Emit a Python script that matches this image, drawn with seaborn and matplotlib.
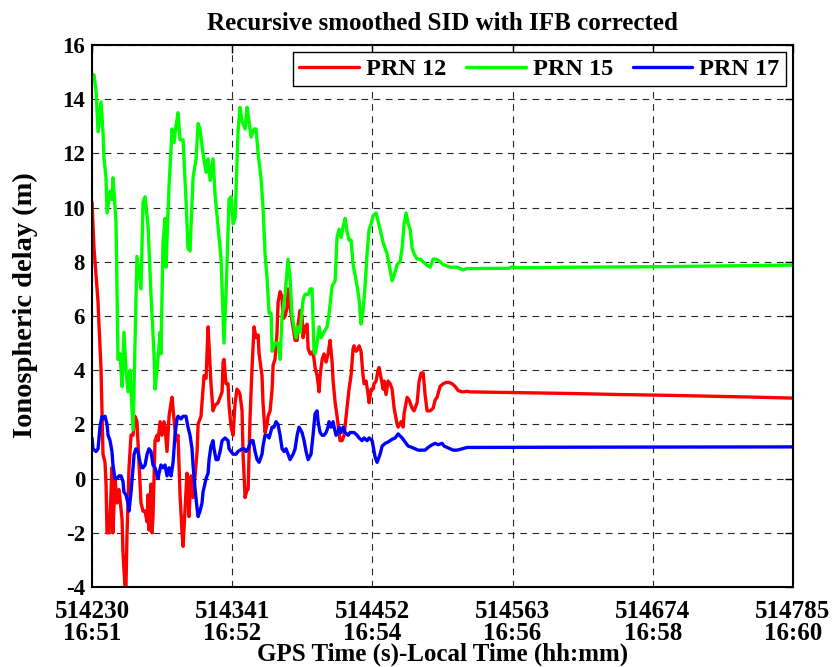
import numpy as np
import pandas as pd
import matplotlib
matplotlib.use("Agg")
import matplotlib.pyplot as plt
import seaborn as sns

T0 = 514230
# seconds after T0, and ionospheric delay (m)
prn12_sec = [0, 1.6, 4.0, 4.8, 5.5, 7.1, 7.9, 8.7, 10.3, 11.1, 11.9, 13.5, 15.0, 15.8, 16.6, 18.2,
             19.8, 21.4, 23.8, 24.5, 26.1, 26.9, 27.7, 29.3, 30.9, 32.5, 34.0, 35.6, 37.2, 38.8,
             40.4, 42.0, 43.6, 44.4, 45.1, 46.7, 47.5, 48.3, 49.9, 51.5, 52.3, 53.9, 55.4, 57.0,
             57.8, 59.4, 61.0, 62.6, 63.4, 64.9, 66.5, 68.1, 69.7, 71.3, 72.1, 73.7, 75.2, 76.0,
             76.8, 78.4, 80.0, 81.6, 83.2, 84.0, 84.7, 86.3, 87.9, 88.7, 90.3, 91.9, 92.7, 94.2,
             95.8, 97.4, 99.8, 101.4, 103.0, 103.8, 104.5, 106.1, 107.7, 108.5, 110.1, 111.7,
             113.3, 114.8, 116.4, 117.2, 118.8, 119.6, 121.2, 122.8, 123.6, 125.1, 126.7, 128.3,
             129.9, 131.5, 132.3, 134.6, 135.4, 137.0, 138.6, 139.4, 141.0, 142.6, 143.4, 144.9,
             146.5, 147.3, 148.9, 150.5, 151.3, 152.9, 154.4, 155.2, 156.8, 158.4, 159.2, 160.8,
             162.4, 163.2, 164.7, 166.3, 167.1, 168.7, 170.3, 171.1, 172.7, 174.2, 175.0, 176.6,
             178.2, 179.8, 180.6, 182.2, 183.7, 185.3, 186.9, 188.5, 190.1, 190.9, 192.5, 194.0,
             194.8, 196.4, 198.0, 199.6, 201.2, 202.8, 203.5, 205.1, 206.7, 207.5, 209.1, 210.7,
             211.5, 213.0, 214.6, 215.4, 217.0, 218.6, 219.4, 221.0, 222.6, 223.3, 224.9, 226.5,
             227.3, 228.9, 230.5, 231.3, 232.8, 234.4, 236.0, 237.6, 239.2, 241.6, 242.4, 244.7,
             246.3, 247.1, 249.5, 251.1, 253.4, 255.0, 257.4, 259.0, 260.6, 262.2, 263.7, 265.3,
             267.7, 270.1, 271.7, 273.2, 275.6, 278.0, 280.4, 282.7, 285.1, 287.5, 289.9, 293.0,
             297.0, 299.4, 340, 380, 420, 460, 500, 530, 555]
prn12_val = [10.2, 8.5, 7.0, 6.5, 5.7, 4.1, 2.5, 0.9, 0.6, -0.2, -2.0, -2.0, -0.6, 0.4, -2.0, 0.0,
             -0.9, -0.4, -1.5, -2.7, -4.0, -4.0, -2.1, 0.4, 1.6, 1.6, 2.3, 2.1, 0.6, -0.9,
             -1.2, -1.2, -1.6, -0.6, -1.9, -0.2, -2.0, -1.4, 1.4, 1.6, 1.4, 2.1, 1.6, 2.1,
             1.9, 1.0, 2.3, 2.8, 3.0, 2.2, 1.4, 1.6, -0.6, -2.0, -2.5, -1.1, 0.2, -0.2,
             -1.4, 0.1, -0.7, 0.1, 1.0, 2.0, 2.1, 2.3, 3.3, 3.8, 3.7, 5.6, 4.9, 3.5,
             2.5, 2.7, 2.8, 3.0, 3.2, 4.3, 4.4, 3.5, 3.5, 2.7, 1.9, 1.6,
             2.8, 3.3, 3.2, 3.1, 2.5, 0.9, -0.7, -0.4, -0.4, 2.2, 4.1, 5.6,
             5.2, 5.3, 4.6, 3.8, 2.8, 1.7, 2.0, 2.3, 2.5, 3.3, 4.2, 4.4,
             5.4, 6.5, 6.9, 6.7, 5.9, 6.0, 6.3, 7.0, 6.4, 5.8, 5.6, 5.1,
             5.1, 5.7, 6.2, 6.0, 5.2, 5.6, 5.7, 4.8, 4.6, 4.6, 4.7, 4.1,
             3.8, 3.2, 3.8, 4.4, 4.6, 4.3, 4.6, 5.1, 4.3, 3.6, 2.8, 2.3,
             2.0, 1.4, 1.4, 1.6, 2.3, 3.0, 3.3, 3.8, 4.8, 4.9, 4.7, 4.8,
             4.9, 4.7, 3.8, 3.5, 3.6, 3.1, 2.8, 3.3, 3.3, 3.5, 3.6, 4.0,
             4.1, 3.7, 3.3, 3.6, 3.1, 3.6, 3.5, 3.3, 2.6, 2.0, 1.9, 2.1,
             1.9, 2.4, 3.0, 2.9, 2.6, 2.5, 2.8, 3.6, 3.9, 3.9, 3.1, 2.5,
             2.5, 2.6, 2.9, 3.0, 3.4, 3.5, 3.55, 3.55, 3.5, 3.4, 3.25, 3.2,
             3.22, 3.2, 3.17, 3.14, 3.1, 3.07, 3.03, 3.0, 2.97]

prn15_sec = [0, 1.6, 3.2, 4.8, 7.1, 8.7, 9.5, 11.1, 11.9, 14.3, 15.8, 16.6, 19.0, 20.6, 22.2,
             23.8, 25.3, 26.9, 28.5, 30.1, 32.5, 35.6, 38.8, 40.4, 42.0, 44.4, 46.7, 49.1, 49.9,
             51.5, 53.9, 54.6, 56.2, 57.8, 58.6, 61.0, 63.4, 64.9, 66.5, 68.1, 69.7, 72.1, 74.4,
             76.0, 77.6, 80.0, 82.4, 84.0, 85.5, 87.9, 90.3, 91.9, 93.5, 95.8, 97.4, 99.8, 102.2,
             104.5, 106.1, 108.5, 110.1, 111.7, 113.3, 115.6, 117.2, 118.8, 121.2, 122.8, 124.3,
             125.9, 128.3, 129.9, 131.5, 133.8, 135.4, 137.0, 138.6, 140.2, 141.8, 142.6, 144.9,
             147.3, 148.9, 150.5, 152.9, 155.2, 156.8, 158.4, 160.0, 161.6, 163.2, 164.7, 167.1,
             168.7, 171.1, 172.7, 174.2, 175.8, 176.6, 178.2, 179.8, 181.4, 183.7, 186.1, 187.7,
             190.1, 192.5, 194.0, 195.6, 197.2, 198.8, 200.4, 202.0, 203.5, 205.1, 206.7, 208.3,
             209.9, 211.5, 213.0, 214.6, 216.2, 217.8, 219.4, 221.0, 222.6, 224.9, 228.1, 230.5,
             233.6, 236.0, 237.6, 239.2, 241.6, 243.9, 245.5, 247.1, 248.7, 250.3, 251.9, 253.4,
             255.0, 257.4, 259.8, 262.2, 264.5, 267.7, 270.1, 272.4, 275.6, 278.0, 283.5, 289.1,
             293.8, 297.0, 330, 333, 336, 380, 450, 500, 555]
prn15_val = [14.9, 14.9, 14.3, 12.8, 13.9, 12.8, 11.8, 11.1, 9.8, 10.6, 10.3, 11.1, 9.5, 4.4, 4.6,
             3.4, 5.4, 4.0, 3.2, 4.0, 1.8, 8.2, 7.0, 10.2, 10.4, 9.3, 6.8, 4.6, 3.3,
             4.0, 5.4, 4.6, 8.7, 9.6, 7.8, 10.8, 12.9, 12.4, 13.0, 13.5, 12.5, 12.5, 10.3,
             8.5, 8.4, 11.1, 11.8, 13.1, 12.9, 12.0, 11.3, 11.8, 11.0, 11.8, 10.5, 9.3, 8.1,
             5.0, 6.8, 10.3, 10.4, 9.4, 9.6, 12.8, 13.7, 13.2, 12.9, 13.7, 13.2,
             12.6, 12.9, 12.9, 12.0, 11.1, 10.0, 8.3, 7.4, 6.1, 6.1, 4.7, 5.0,
             5.0, 4.4, 6.0, 6.8, 8.1, 7.4, 6.0, 5.6, 5.2, 5.6, 5.4, 6.6,
             6.8, 6.8, 7.0, 7.0, 4.7, 4.6, 5.0, 5.6, 5.2, 5.4, 5.6, 6.1,
             7.1, 7.3, 8.9, 9.2, 8.9, 9.3, 9.6, 9.1, 8.8, 8.8, 7.9, 7.5,
             7.1, 6.6, 5.7, 6.2, 7.1, 8.3, 9.2, 9.4, 9.7, 9.8, 9.2, 8.7,
             8.3, 7.7, 7.3, 7.5, 7.9, 8.0, 8.5, 9.4, 9.8, 9.4, 9.2, 8.5,
             8.3, 8.1, 8.1, 8.0, 7.9, 7.8, 8.1, 8.1, 8.0, 7.9, 7.8, 7.8,
             7.7, 7.75, 7.76, 7.82, 7.78, 7.8, 7.82, 7.85, 7.88]

prn17_sec = [0, 0.8, 3.2, 4.8, 6.3, 7.9, 8.7, 10.3, 11.9, 12.7, 14.3, 15.8, 16.6, 18.2, 19.8,
             21.4, 23.0, 24.5, 25.3, 26.9, 28.5, 29.3, 30.9, 32.5, 33.3, 34.8, 36.4, 38.0, 39.6,
             40.4, 42.0, 43.6, 45.1, 46.7, 48.3, 49.9, 52.3, 53.1, 54.6, 56.2, 57.8, 59.4, 61.0,
             62.6, 64.2, 65.7, 67.3, 68.1, 70.5, 72.1, 74.4, 76.0, 77.6, 79.2, 80.0, 81.6, 83.2,
             84.0, 85.5, 87.1, 87.9, 90.3, 91.9, 92.7, 94.2, 95.8, 96.6, 98.2, 99.8, 101.4, 103.0,
             105.3, 107.7, 108.5, 110.1, 111.7, 114.0, 115.6, 117.2, 118.8, 120.4, 122.0, 123.6,
             125.9, 127.5, 129.1, 130.7, 132.3, 134.6, 135.4, 137.0, 138.6, 140.2, 142.6, 144.1,
             145.7, 147.3, 148.9, 150.5, 152.1, 153.6, 155.2, 156.8, 159.2, 160.8, 162.4, 163.9,
             166.3, 167.9, 169.5, 171.1, 173.4, 175.0, 176.6, 178.2, 179.0, 180.6, 182.2, 183.7,
             185.3, 186.9, 187.7, 189.3, 190.9, 191.7, 193.2, 194.8, 195.6, 197.2, 198.8, 200.4,
             202.8, 204.3, 205.9, 207.5, 209.9, 211.5, 213.8, 215.4, 217.8, 219.4, 221.8, 222.6,
             224.1, 225.7, 226.5, 228.1, 229.7, 232.1, 234.4, 237.6, 240.0, 242.4, 245.5, 247.9,
             250.3, 253.4, 255.8, 258.2, 261.4, 263.7, 266.1, 269.3, 271.7, 274.0, 277.2, 278.8,
             281.2, 283.5, 285.9, 289.1, 293.0, 297.0, 400, 555]
prn17_val = [1.5, 1.1, 1.0, 1.1, 1.9, 2.3, 2.2, 2.3, 2.0, 1.6, 1.4, 1.0, 0.5, 0.0, 0.0,
             0.1, 0.1, -0.1, -0.5, -0.6, -0.9, -1.2, -0.5, 0.4, 0.9, 1.1, 1.0, 0.6, 0.4,
             0.4, 0.5, 0.9, 1.1, 1.0, 0.5, 0.4, 0.0, 0.2, 0.5, 0.4, 0.5, 0.1, 0.4,
             0.1, 0.6, 1.6, 2.2, 2.3, 2.2, 2.3, 2.3, 1.9, 1.6, 1.1, 0.5, -0.4, -1.1,
             -1.4, -1.2, -0.9, -0.5, 0.0, 0.2, 0.7, 1.2, 1.4, 1.1, 0.7, 0.7, 1.0, 1.4,
             1.5, 1.4, 1.1, 1.0, 0.9, 0.9, 1.0, 1.05, 1.1, 1.1, 1.0, 1.1,
             1.4, 1.4, 1.0, 0.7, 0.6, 0.9, 1.2, 1.6, 1.6, 1.5, 1.9, 1.9,
             2.1, 2.0, 1.6, 1.1, 1.0, 1.1, 0.9, 0.7, 0.9, 1.1, 1.6, 1.9,
             1.7, 1.4, 1.0, 0.7, 0.9, 1.6, 2.4, 2.5, 2.1, 1.7, 1.6, 1.6,
             1.7, 1.9, 2.1, 1.9, 2.1, 1.9, 1.6, 1.7, 1.9, 1.7, 1.9, 1.7,
             1.6, 1.7, 1.7, 1.7, 1.6, 1.5, 1.4, 1.5, 1.4, 1.5, 1.4, 1.2,
             0.8, 0.6, 0.7, 0.9, 1.2, 1.3, 1.35, 1.45, 1.5, 1.65, 1.5, 1.35,
             1.2, 1.15, 1.1, 1.05, 1.05, 1.05, 1.15, 1.25, 1.3, 1.25, 1.3, 1.2,
             1.15, 1.1, 1.05, 1.05, 1.1, 1.15, 1.16, 1.17]

series_names = ["PRN 12", "PRN 15", "PRN 17"]
series_colors = ["#ff0000", "#00ff00", "#0000ff"]
tick_gps = [514230, 514341, 514452, 514563, 514674, 514785]
tick_local = ["16:51", "16:52", "16:54", "16:56", "16:58", "16:60"]
y_ticks = [-4, -2, 0, 2, 4, 6, 8, 10, 12, 14, 16]

frames = []
for name, sec, val in zip(series_names, [prn12_sec, prn15_sec, prn17_sec],
                          [prn12_val, prn15_val, prn17_val]):
    frames.append(pd.DataFrame({"t": T0 + np.array(sec, dtype=float),
                                "v": np.array(val, dtype=float), "sat": name}))
df = pd.concat(frames, ignore_index=True)

sns.set_theme(style="white")
plt.rcParams["font.family"] = ["Liberation Serif", "DejaVu Serif"]
plt.rcParams["font.weight"] = "bold"
plt.rcParams["axes.labelweight"] = "bold"
plt.rcParams["axes.titleweight"] = "bold"
plt.rcParams["text.color"] = "black"
plt.rcParams["axes.labelcolor"] = "black"
plt.rcParams["xtick.color"] = "black"
plt.rcParams["ytick.color"] = "black"

fig = plt.figure(figsize=(8.37, 6.67), dpi=100)
ax = fig.add_axes([92 / 837, 1 - 587 / 667, (793 - 92) / 837, (587 - 45) / 667])

sns.lineplot(data=df, x="t", y="v", hue="sat", hue_order=series_names,
             palette=dict(zip(series_names, series_colors)), sort=False,
             estimator=None, linewidth=2.4, ax=ax)

ax.set_xlim(tick_gps[0], tick_gps[-1])
ax.set_ylim(-4, 16)
ax.set_xticks(tick_gps)
ax.set_xticklabels([f"{g}\n{l}" for g, l in zip(tick_gps, tick_local)],
                   fontsize=18, fontweight="bold", linespacing=0.98)
ax.set_yticks(y_ticks)
ax.set_yticklabels([str(v) for v in y_ticks], fontsize=16.5, fontweight="bold")
ax.tick_params(direction="in", length=6, width=1, top=True, right=True,
               colors="black")
ax.tick_params(axis="x", pad=9)
ax.tick_params(axis="y", pad=5)
ax.grid(True, color="black", linestyle=(0, (6, 5)), linewidth=0.8, alpha=0.85)
for s in ax.spines.values():
    s.set_color("black")
    s.set_linewidth(1.5)

ax.set_xlabel("GPS Time (s)-Local Time (hh:mm)", fontsize=18, fontweight="bold", labelpad=-2)
ax.set_ylabel("Ionospheric delay (m)", fontsize=20.5, fontweight="bold")
ax.yaxis.set_label_coords(-0.077, 0.52)
ax.set_title("Recursive smoothed SID with IFB corrected", fontsize=18, fontweight="bold", pad=11)

leg = ax.legend(loc="upper right", ncol=3, frameon=True, fancybox=False, edgecolor="black",
                framealpha=1, fontsize=17.5, handlelength=2.45, handletextpad=0.3,
                columnspacing=0.8, borderaxespad=0.3, borderpad=0.25)
leg.get_frame().set_linewidth(1.0)
for txt in leg.get_texts():
    txt.set_fontweight("bold")
for line in leg.get_lines():
    line.set_linewidth(2.4)

fig.savefig("out.png", dpi=100, facecolor="white")
